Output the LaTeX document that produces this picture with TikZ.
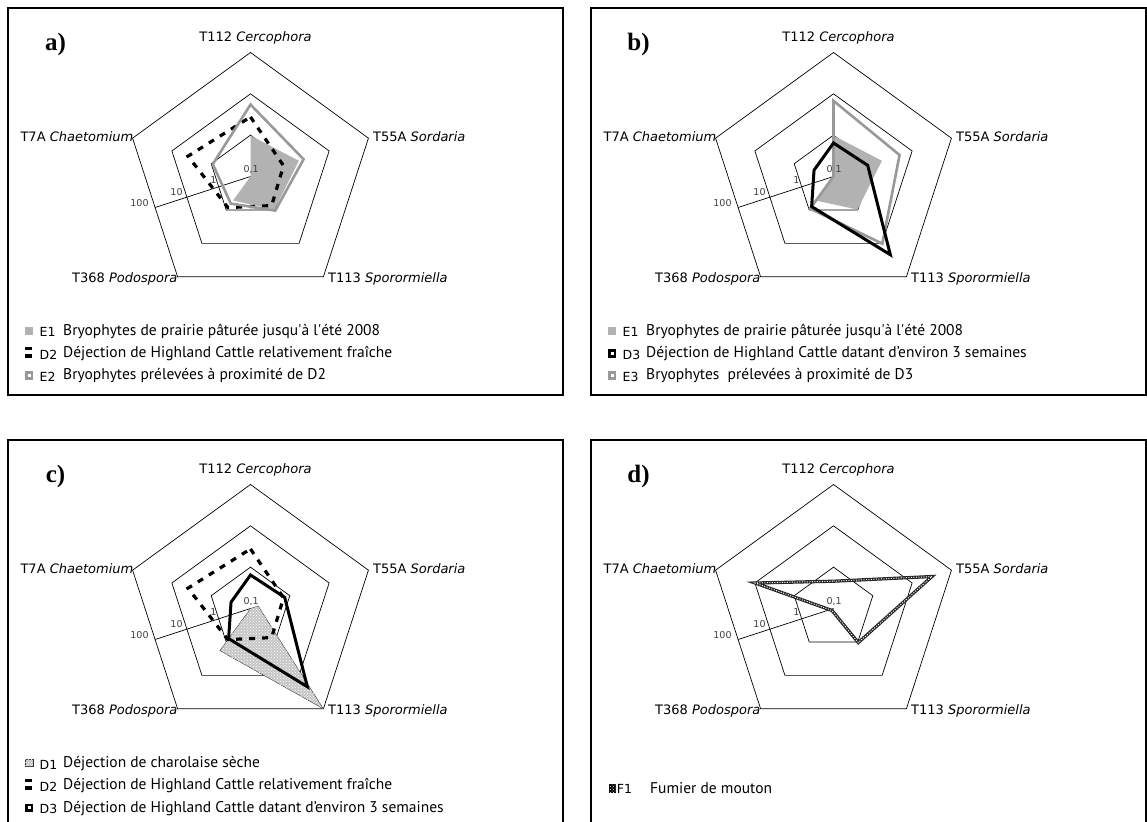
\documentclass[tikz,border=0pt]{standalone}
\usepackage{fontspec}
\usetikzlibrary{patterns}
\newfontfamily\catfont{DejaVu Sans}[ItalicFont={DejaVu Sans Oblique}]
\newfontfamily\legfont{PT Sans}
\newfontfamily\letterfont{Liberation Serif}

% radius of the outer ring (value 100)
\newcommand{\Rad}{124}
% one series: style, then T112, T55A, T113, T368, T7A (0 = 0,1 ... 1 = 100)
\newcommand{\radarpath}[6]{\path[#1] (90:#2*\Rad) -- (18:#3*\Rad) -- (-54:#4*\Rad) -- (-126:#5*\Rad) -- (162:#6*\Rad) -- cycle;}
% box, rings, axis and category labels of one chart
\newcommand{\radarframe}[2]{%
  % Box
  \draw[frame] (-242.5,168.5) rectangle (312.5,-218.5);
  % Letter
  \node[panelletter] (#1-letter) at (-195,132) {#2};
  % Rings
  \foreach \k in {1,2,3}
    \draw[ring] (90:\k*\Rad/3) -- (18:\k*\Rad/3) -- (-54:\k*\Rad/3) -- (-126:\k*\Rad/3) -- (162:\k*\Rad/3) -- cycle;
  % Value axis
  \draw[ring] (0,0) -- (198:{\Rad*cos(36)});
  % Categories
  \node[catlab, anchor=base] (#1-t112) at (5,134.5) {T112 \textit{Cercophora}};
  \node[catlab, anchor=base west] (#1-t55a) at (122.5,34.8) {T55A \textit{Sordaria}};
  \node[catlab, anchor=base west] (#1-t113) at (77.5,-106.2) {T113 \textit{Sporormiella}};
  \node[catlab, anchor=base east] (#1-t368) at (-73,-106.2) {T368 \textit{Podospora}};
  \node[catlab, anchor=base east] (#1-t7a) at (-117,34.8) {T7A \textit{Chaetomium}};
}
% value labels, over the series
\newcommand{\radarticks}[1]{%
  \node[ticklab] (#1-v01) at (0.7,7) {0,1};
  \node[ticklab] (#1-v1) at (-37,-3.5) {1};
  \node[ticklab] (#1-v10) at (-74,-15.5) {10};
  \node[ticklab] (#1-v100) at (-111,-26.5) {100};
}
% one legend line: name, baseline, code, text
\newcommand{\legendrow}[4]{%
  \node[codelab] (#1-code) at (-211,#2-1.8) {#3};
  \node[legtext] (#1-text) at (-187.5,#2) {#4};
}

\begin{document}
\begin{tikzpicture}[x=1pt, y=1pt,
  frame/.style={draw=black, line width=1.6pt},
  ring/.style={draw=black, line width=0.7pt},
  panelletter/.style={font=\letterfont\bfseries\fontsize{25}{27}\selectfont, inner sep=0pt},
  catlab/.style={font=\catfont\fontsize{13}{15}\selectfont, inner sep=0pt},
  ticklab/.style={font=\catfont\fontsize{9.5}{11}\selectfont, text=black!75, inner sep=0pt},
  codelab/.style={font=\catfont\fontsize{12.5}{14}\selectfont, inner sep=0pt, anchor=base west},
  legtext/.style={font=\legfont\fontsize{15.5}{17}\selectfont, inner sep=0pt, anchor=base west},
  e1fill/.style={fill=gray!60},
  greyline/.style={draw=gray!80, line width=2.6pt},
  d2dash/.style={draw=black, line width=3.2pt, dash pattern=on 6pt off 7pt},
  d3line/.style={draw=black, line width=3pt},
  d1fill/.style={fill=gray!45, postaction={pattern=crosshatch dots, pattern color=white}, draw=gray!40!black, line width=0.4pt},
  f1line/.style={draw=black!85, line width=3.2pt, postaction={draw=white, line width=1pt, dash pattern=on 1pt off 1.5pt}}]
\useasboundingbox (0,0) rectangle (1147,821);

% a) E1, D2, E2
\begin{scope}[shift={(250.5,644.5)}]
\radarframe{a}{a)}
\radarpath{e1fill}{0.33}{0.41}{0.33}{0.24}{0}
\radarticks{a}
\radarpath{d2dash}{0.48}{0.28}{0.29}{0.31}{0.53}
\radarpath{greyline}{0.58}{0.45}{0.34}{0.27}{0.32}
% Legend
\fill[gray!60] (-225.7,-158.7) rectangle ++(8.5,8.5);
\legendrow{a-e1}{-158.7}{E1}{Bryophytes de prairie pâturée jusqu\textquotesingle à l\textquotesingle été 2008}
\fill[black] (-225.7,-181.2) rectangle ++(7.5,3.4);
\fill[black] (-225.7,-173.8) rectangle ++(7.5,3.4);
\legendrow{a-d2}{-181.2}{D2}{Déjection de Highland Cattle relativement fraîche}
\fill[gray!80] (-225.7,-203.5) rectangle ++(8.5,8.5);
\fill[white] (-222.9,-200.7) rectangle ++(3,3);
\legendrow{a-e2}{-203.5}{E2}{Bryophytes prélevées à proximité de D2}
\end{scope}

% b) E1, D3, E3
\begin{scope}[shift={(833.5,644.5)}]
\radarframe{b}{b)}
\radarpath{e1fill}{0.33}{0.41}{0.33}{0.24}{0}
\radarticks{b}
\radarpath{greyline}{0.61}{0.56}{0.67}{0.32}{0}
\radarpath{d3line}{0.27}{0.29}{0.78}{0.30}{0.165}
% Legend
\fill[gray!60] (-225.7,-158.7) rectangle ++(8.5,8.5);
\legendrow{b-e1}{-158.7}{E1}{Bryophytes de prairie pâturée jusqu\textquotesingle à l\textquotesingle été 2008}
\fill[black] (-225.7,-181.2) rectangle ++(8.5,8.5);
\fill[white] (-222.9,-178.4) rectangle ++(3,3);
\legendrow{b-d3}{-181.2}{D3}{Déjection de Highland Cattle datant d’environ 3 semaines}
\fill[gray!80] (-225.7,-203.5) rectangle ++(8.5,8.5);
\fill[white] (-222.9,-200.7) rectangle ++(3,3);
\legendrow{b-e3}{-203.5}{E3}{Bryophytes\ \ prélevées à proximité de D3}
\end{scope}

% c) D1, D2, D3
\begin{scope}[shift={(250.5,212.5)}]
\radarframe{c}{c)}
\radarpath{d1fill}{0}{0.065}{1}{0.42}{0}
\radarticks{c}
\radarpath{d2dash}{0.48}{0.28}{0.29}{0.31}{0.53}
\radarpath{d3line}{0.27}{0.29}{0.78}{0.30}{0.165}
% Legend
\path[d1fill] (-225.2,-158.2) rectangle ++(7.5,7.5);
\legendrow{c-d1}{-158.7}{D1}{Déjection de charolaise sèche}
\fill[black] (-225.7,-181.2) rectangle ++(7.5,3.4);
\fill[black] (-225.7,-173.8) rectangle ++(7.5,3.4);
\legendrow{c-d2}{-181.2}{D2}{Déjection de Highland Cattle relativement fraîche}
\fill[black] (-225.7,-203.5) rectangle ++(8.5,8.5);
\fill[white] (-222.9,-200.7) rectangle ++(3,3);
\legendrow{c-d3}{-203.5}{D3}{Déjection de Highland Cattle datant d’environ 3 semaines}
\end{scope}

% d) F1
\begin{scope}[shift={(833.5,212.5)}]
\radarframe{d}{d)}
\radarticks{d}
\radarpath{f1line}{0.22}{0.835}{0.34}{0.02}{0.665}
% Legend
\fill[black, postaction={pattern=crosshatch dots, pattern color=white}] (-224.2,-184.8) rectangle ++(7,9.5);
\node[codelab] (d-f1-code) at (-216.8,-184.8) {F1};
\node[legtext] (d-f1-text) at (-183.5,-184.8) {Fumier de mouton};
\end{scope}
\end{tikzpicture}
\end{document}
